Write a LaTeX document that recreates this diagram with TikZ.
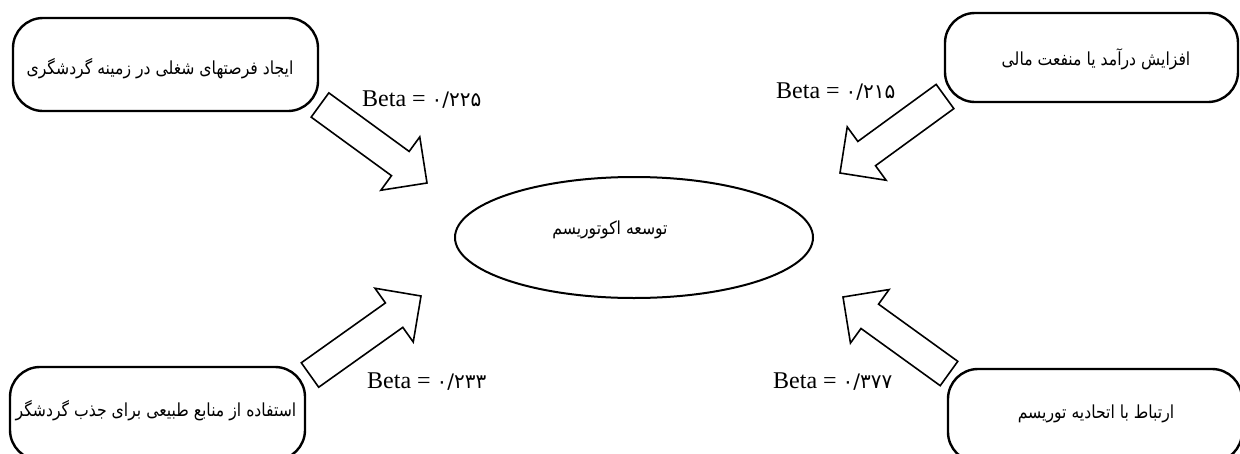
\documentclass[tikz,border=0pt]{standalone}
\usepackage{fontspec}
\setmainfont{Liberation Serif}
\newfontfamily\fa[Script=Arabic,FakeStretch=0.87]{DejaVu Sans}
\newfontfamily\fadig{DejaVu Sans}
\TeXXeTstate=1
\usetikzlibrary{calc,shapes.geometric}
\tikzset{
  box/.style={draw, line width=2.4pt, rounded corners=30pt, inner sep=0pt},
  fatext/.style={font=\fa\fontsize{18}{21}\selectfont, inner sep=0pt},
  betatext/.style={font=\fontsize{24}{28}\selectfont, inner sep=0pt, anchor=west},
  blockarr/.style={draw, line width=1.6pt, line join=miter},
  goal/.style={draw, ellipse, line width=2pt, minimum width=358pt, minimum height=121pt, inner sep=0pt}
}
\newcommand\blockarrow[2]{%
  \coordinate (ba-b) at ($(#2)!33pt!(#1)$);
  \draw[blockarr] ($(#1)!15pt!90:(#2)$) -- ($(ba-b)!15pt!90:(#2)$) -- ($(ba-b)!33pt!90:(#2)$)
    -- (#2) -- ($(ba-b)!33pt!-90:(#2)$) -- ($(ba-b)!15pt!-90:(#2)$) -- ($(#1)!15pt!-90:(#2)$) -- cycle;
}
\newcommand\betaval[1]{Beta = {\fadig\fontsize{20}{24}\selectfont #1}}
\begin{document}
\begin{tikzpicture}[x=1pt,y=-1pt]
\useasboundingbox (0,0) rectangle (1240,453);
% boxes
\node[box, minimum width=305pt, minimum height=93pt] (tl) at (165.5,64.5) {};
\node[box, minimum width=293pt, minimum height=89pt] (tr) at (1091.5,57.5) {};
\node[box, minimum width=295pt, minimum height=93pt] (bl) at (157.5,413.5) {};
\node[box, minimum width=294pt, minimum height=93pt] (br) at (1095,415.5) {};
\node[goal] (goal) at (634,237.5) {};
% texts
\node[fatext] (tlt) at (160,69) {\fa\beginR ایجاد فرصتهای شغلی در زمینه گردشگری\endR};
\node[fatext] (trt) at (1096,59) {\fa\beginR افزایش درآمد یا منفعت مالی\endR};
\node[fatext] (blt) at (156,411) {\fa\beginR استفاده از منابع طبیعی برای جذب گردشگر\endR};
\node[fatext] (brt) at (1096,414) {\fa\beginR ارتباط با اتحادیه توریسم\endR};
\node[fatext] (goalt) at (610,230) {\fa\beginR توسعه اکوتوریسم\endR};
% block arrows
\coordinate (a1s) at (320,105);  \coordinate (a1e) at (427,183);
\coordinate (a2s) at (945,96.5); \coordinate (a2e) at (840,173);
\coordinate (a3s) at (310,375);  \coordinate (a3e) at (421,296);
\coordinate (a4s) at (949,373.5);\coordinate (a4e) at (843,297);
\blockarrow{a1s}{a1e}
\blockarrow{a2s}{a2e}
\blockarrow{a3s}{a3e}
\blockarrow{a4s}{a4e}
% beta labels
\node[betatext] (b1) at (362,100) {\betaval{۰/۲۲۵}};
\node[betatext] (b2) at (776,92) {\betaval{۰/۲۱۵}};
\node[betatext] (b3) at (367,382) {\betaval{۰/۲۳۳}};
\node[betatext] (b4) at (773,382) {\betaval{۰/۳۷۷}};
\end{tikzpicture}
\end{document}
